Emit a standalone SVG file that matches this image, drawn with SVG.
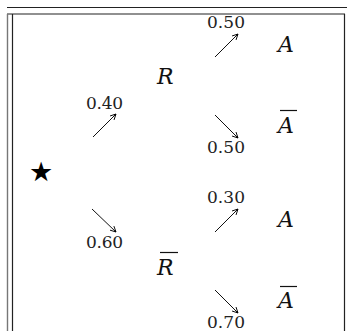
<svg xmlns="http://www.w3.org/2000/svg" width="347" height="331" viewBox="0 0 347 331">
<defs>
<marker id="ah" viewBox="0 0 10 10" refX="9" refY="5" markerWidth="7" markerHeight="7" markerUnits="userSpaceOnUse" orient="auto">
<path d="M1,1 L9,5 L1,9" fill="none" stroke="#000" stroke-width="1.3"/>
</marker>
</defs>
<style>
.num{font-size:17px;fill:#222}
.var{font-style:italic;font-size:22px;fill:#111}
.bar{stroke:#111;stroke-width:1.2}
.arr{stroke:#111;stroke-width:1;fill:none;marker-end:url(#ah)}
.frame{stroke:#222;stroke-width:1.2;fill:none}
</style>
<rect width="347" height="331" fill="#fff"/>
<g id="frame">
<line class="frame" x1="7" y1="7.5" x2="347" y2="7.5"/>
<line class="frame" x1="7" y1="14" x2="345" y2="14"/>
<line x1="7.5" y1="14" x2="7.5" y2="331" stroke="#777" stroke-width="1.4"/>
<line class="frame" x1="12.5" y1="14" x2="12.5" y2="331"/>
<line class="frame" x1="344.5" y1="14" x2="344.5" y2="331"/>
</g>
<g id="connectors">
<line class="arr" x1="93" y1="137" x2="116" y2="114"/>
<line class="arr" x1="92" y1="209" x2="116" y2="232"/>
<line class="arr" x1="215" y1="57" x2="238" y2="34"/>
<line class="arr" x1="215" y1="115" x2="238" y2="138"/>
<line class="arr" x1="215" y1="232" x2="238" y2="209"/>
<line class="arr" x1="215" y1="290" x2="238" y2="313"/>
</g>
<g id="start"><text x="41" y="181" font-family="DejaVu Sans, sans-serif" font-size="27" text-anchor="middle">★</text></g>
<g font-family="'DejaVu Serif', serif">
<g id="node-R"><text class="var" x="157" y="84">R</text></g>
<g id="node-Rbar"><line class="bar" x1="160" y1="252.5" x2="178" y2="252.5"/><text class="var" x="157" y="275">R</text></g>
<g id="node-A1"><text class="var" x="278" y="52">A</text></g>
<g id="node-A1bar"><line class="bar" x1="280" y1="110.5" x2="297" y2="110.5"/><text class="var" x="278" y="133">A</text></g>
<g id="node-A2"><text class="var" x="278" y="227">A</text></g>
<g id="node-A2bar"><line class="bar" x1="280" y1="286.5" x2="297" y2="286.5"/><text class="var" x="278" y="308">A</text></g>
<g id="labels">
<text class="num" x="86" y="109" textLength="37" lengthAdjust="spacing">0.40</text>
<text class="num" x="86" y="248" textLength="37" lengthAdjust="spacing">0.60</text>
<text class="num" x="207" y="28" textLength="38" lengthAdjust="spacing">0.50</text>
<text class="num" x="207" y="153" textLength="38" lengthAdjust="spacing">0.50</text>
<text class="num" x="207" y="203" textLength="38" lengthAdjust="spacing">0.30</text>
<text class="num" x="207" y="328" textLength="38" lengthAdjust="spacing">0.70</text>
</g>
</g>
</svg>
